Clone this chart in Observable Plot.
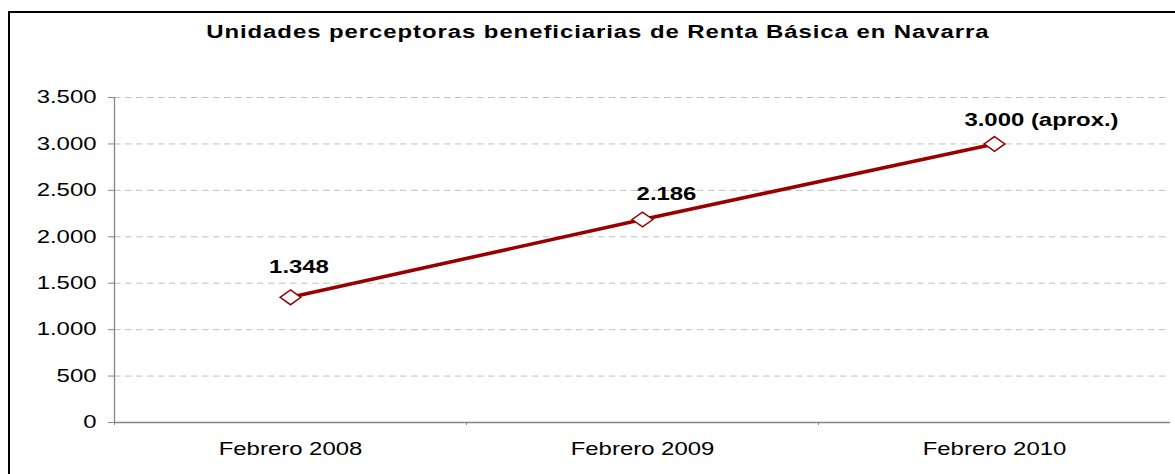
<!DOCTYPE html>
<html>
<head>
<meta charset="utf-8">
<script src="https://cdn.jsdelivr.net/npm/d3@7"></script>
<script src="https://cdn.jsdelivr.net/npm/@observablehq/plot@0.6"></script>
<style>
  html, body { margin: 0; padding: 0; background: #fff; overflow: hidden; width: 1175px; height: 474px; }
  #frame { position: absolute; left: 8px; top: 11px; width: 1300px; height: 700px; border: 2px solid #000; }
  #titlewrap { position: absolute; left: 0; top: 0; width: 883px; height: 50px; transform: scaleX(1.33); transform-origin: 0 0; }
  #title { position: absolute; top: 24px; left: 16px; width: 867px; text-align: center; font: bold 18px "Liberation Sans", Arial, sans-serif; letter-spacing: 0.7px; line-height: 17px; color: #000; white-space: nowrap; }
  #chart { position: absolute; top: 60px; left: 0; }
</style>
</head>
<body>
<div id="frame"></div>
<div id="titlewrap"><div id="title">Unidades perceptoras beneficiarias de Renta Básica en Navarra</div></div>
<div id="chart"></div>
<script>
// ---- data ----
const categories = ["Febrero 2008", "Febrero 2009", "Febrero 2010"];
const values = [1348, 2186, 3000];
const valueLabels = ["1.348", "2.186", "3.000 (aprox.)"];
const yTicks = [0, 500, 1000, 1500, 2000, 2500, 3000, 3500];

// ---- styling / layout ----
const S = 1.33;  // horizontal stretch of the original lettering and markers
const labelOffsets = [[8.5, -30], [24, -25.5], [47, -23.5]]; // dx, dy of each value label

// a diamond stretched horizontally like the original markers
const wideDiamond = {
  draw(context, size) {
    const r = Math.sqrt(size / Math.PI);
    context.moveTo(0, -r);
    context.lineTo(r * 1.4, 0);
    context.lineTo(0, r);
    context.lineTo(-r * 1.4, 0);
    context.closePath();
  }
};

const esLocale = d3.formatLocale({decimal: ",", thousands: ".", grouping: [3], currency: ["", " €"]});
const fmt = esLocale.format(",d");

const data = categories.map((c, i) => ({i, c, v: values[i], label: valueLabels[i]}));
const boundaries = d3.range(categories.length).map(k => k - 0.5);

const font = "'Liberation Sans', Arial, sans-serif";
const W = 1175;

const chart = Plot.plot({
  width: W,
  height: 414,
  marginLeft: 114,
  marginRight: W - 1170,
  marginTop: 37,
  marginBottom: 52,
  style: {fontFamily: font, fontSize: "18px", color: "#000", background: "transparent"},
  x: {type: "linear", domain: [-0.5, categories.length - 0.5]},
  y: {domain: [0, 3500]},
  marks: [
    Plot.gridY({ticks: yTicks.filter(t => t > 0), stroke: "#c0c0c0", strokeOpacity: 1, strokeWidth: 1, strokeDasharray: "6.5,4.5"}),
    Plot.ruleX([-0.5], {stroke: "#868686", strokeWidth: 1.3}),
    Plot.ruleY([0], {stroke: "#868686", strokeWidth: 1.5}),
    Plot.axisY({ticks: yTicks, tickFormat: fmt, tickSize: 6, tickPadding: 12, stroke: "#868686", fill: "#000", label: null, fontSize: 18}),
    Plot.axisX({ticks: boundaries, tickSize: 3, stroke: "#868686", fill: "none", label: null}),
    Plot.axisX({ticks: d3.range(categories.length), tickFormat: i => categories[i], tickSize: 0, tickPadding: 20, fill: "#000", label: null, fontSize: 18}),
    Plot.line(data, {x: "i", y: "v", stroke: "#990000", strokeWidth: 3.6}),
    Plot.dot(data, {x: "i", y: "v", symbol: wideDiamond, r: 7.4, fill: "#fff", stroke: "#990000", strokeWidth: 1.5}),
    ...data.map((d, k) => Plot.text([d], {
      x: "i", y: "v", text: "label",
      dx: labelOffsets[k][0], dy: labelOffsets[k][1],
      fontWeight: "bold", fontSize: 18, fill: "#000"
    }))
  ]
});

// stretch the lettering horizontally about its anchor, as in the original picture
chart.querySelectorAll("text").forEach(t => {
  const tr = t.getAttribute("transform") || "";
  t.setAttribute("transform", `${tr} scale(${S},1)`.trim());
});

document.getElementById("chart").appendChild(chart);
</script>
</body>
</html>
